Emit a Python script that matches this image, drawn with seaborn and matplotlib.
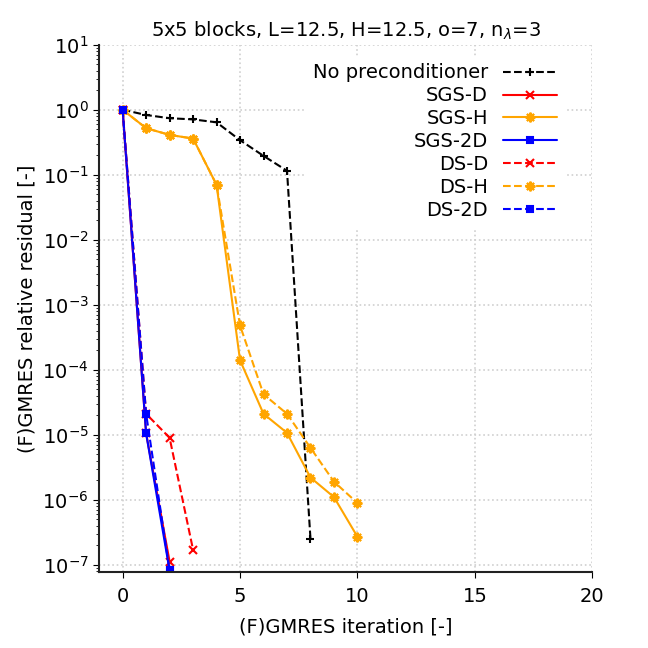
import numpy as np
import matplotlib
matplotlib.use('Agg')
import matplotlib.pyplot as plt
import seaborn as sns

# residual histories
it_none = [0, 1, 2, 3, 4, 5, 6, 7, 8]
res_none = [1.0, 0.83, 0.74, 0.71, 0.64, 0.34, 0.195, 0.115, 2.5e-7]

it_sgs_d = [0, 1, 2]
res_sgs_d = [1.0, 1.05e-5, 1.12e-7]

it_sgs_h = [0, 1, 2, 3, 4, 5, 6, 7, 8, 9, 10]
res_sgs_h = [1.0, 0.52, 0.41, 0.36, 0.07, 1.4e-4, 2.1e-5, 1.07e-5, 2.2e-6, 1.1e-6, 2.7e-7]

it_sgs_2d = [0, 1, 2]
res_sgs_2d = [1.0, 1.05e-5, 8.2e-8]

it_ds_d = [0, 1, 2, 3]
res_ds_d = [1.0, 2.1e-5, 9e-6, 1.7e-7]

it_ds_h = [0, 1, 2, 3, 4, 5, 6, 7, 8, 9, 10]
res_ds_h = [1.0, 0.52, 0.41, 0.36, 0.07, 4.8e-4, 4.2e-5, 2.1e-5, 6.3e-6, 1.9e-6, 8.9e-7]

it_ds_2d = [0, 1, 2]
res_ds_2d = [1.0, 2.1e-5, 8.2e-8]

labels = ['No preconditioner', 'SGS-D', 'SGS-H', 'SGS-2D', 'DS-D', 'DS-H', 'DS-2D']
colors = ['black', 'red', 'orange', 'blue', 'red', 'orange', 'blue']
markers = ['+', 'x', 'star', 's', 'x', 'star', 's']
dashes = ['--', '-', '-', '-', '--', '--', '--']

sns.set_style('white')
plt.rcParams['font.family'] = ['DejaVu Sans']
plt.rcParams['text.color'] = 'black'
plt.rcParams['axes.labelcolor'] = 'black'
plt.rcParams['xtick.color'] = 'black'
plt.rcParams['ytick.color'] = 'black'

fig = plt.figure(figsize=(6.48, 6.48), dpi=100)
ax = fig.add_axes([0.153, 0.117, 0.761, 0.814])

series = [(it_none, res_none), (it_sgs_d, res_sgs_d), (it_sgs_h, res_sgs_h),
          (it_sgs_2d, res_sgs_2d), (it_ds_d, res_ds_d), (it_ds_h, res_ds_h),
          (it_ds_2d, res_ds_2d)]
for (x, y), lab, c, m, ls in zip(series, labels, colors, markers, dashes):
    ms = {'s': 5, 'star': 7}.get(m, 6)
    sns.lineplot(x=x, y=y, ax=ax, label=lab, color=c, marker='o', linestyle=ls,
                 linewidth=1.5, markersize=ms, markeredgewidth=1.5,
                 markeredgecolor=c, markerfacecolor=c)
    line = ax.lines[-1]
    # asterisk marker set directly on the line
    line.set_marker((8, 2, 0) if m == 'star' else m)

ax.set_yscale('log')
ax.set_xlim(-1, 20)
ax.set_ylim(7.7e-8, 10)
ax.set_xticks([0, 5, 10, 15, 20])
ax.grid(True, which='major', linestyle=':', color='#d0d0d0', linewidth=1.2)
ax.tick_params(axis='both', which='major', labelsize=14, direction='out',
               length=4, left=True, bottom=True, colors='black')
ax.tick_params(axis='x', which='major', pad=7)
ax.tick_params(axis='y', which='minor', direction='out', length=2, left=True)
ax.yaxis.set_minor_locator(matplotlib.ticker.LogLocator(base=10, subs=np.arange(2, 10), numticks=20))
for s in ['top', 'right']:
    ax.spines[s].set_visible(False)
for s in ['left', 'bottom']:
    ax.spines[s].set_color('#222222')
    ax.spines[s].set_linewidth(1.5)

ax.set_xlabel('(F)GMRES iteration [-]', fontsize=14, labelpad=8)
ax.set_ylabel('(F)GMRES relative residual [-]', fontsize=14)
ax.set_title(r'5x5 blocks, L=12.5, H=12.5, o=7, n$_\lambda$=3', fontsize=14)

leg = ax.legend(loc='upper right', bbox_to_anchor=(0.96, 0.994), markerfirst=False,
                fontsize=14, frameon=True, handlelength=2.8, handletextpad=0.75,
                labelspacing=0.2, borderaxespad=0.4)
leg.get_frame().set_facecolor('white')
leg.get_frame().set_edgecolor('white')
leg.get_frame().set_alpha(1.0)
for h, m in zip(leg.legend_handles, markers):
    h.set_marker((8, 2, 0) if m == 'star' else m)

fig.savefig('out.png', dpi=100)
